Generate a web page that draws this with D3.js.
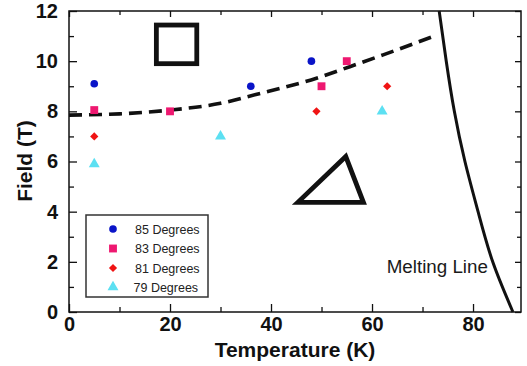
<!DOCTYPE html>
<html>
<head>
<meta charset="utf-8">
<script src="https://cdn.jsdelivr.net/npm/d3@7"></script>
<style>
  html, body { margin: 0; padding: 0; background: #ffffff; }
  svg { display: block; }
  text { font-family: "Liberation Sans", Arial, Helvetica, sans-serif; }
</style>
</head>
<body>
<svg id="chart" width="527" height="366"></svg>
<script>
// ---- data -------------------------------------------------------------
const xMajorTicks = [0, 20, 40, 60, 80];
const xMinorTicks = [10, 30, 50, 70];
const yMajorTicks = [0, 2, 4, 6, 8, 10, 12];
const yMinorTicks = [1, 3, 5, 7, 9, 11];

const series85 = [[5, 9.1], [36, 9.0], [48, 10.0]];
const series83 = [[5, 8.05], [20, 8.0], [50, 9.0], [55, 10.0]];
const series81 = [[5, 7.0], [49, 8.0], [63, 9.0]];
const series79 = [[5, 5.9], [30, 7.0], [62, 8.0]];

const seriesNames = ["85 Degrees", "83 Degrees", "81 Degrees", "79 Degrees"];

// dashed phase boundary (temperature, field)
const boundaryCurve = [[0, 7.85], [10, 7.9], [20, 8.05], [30, 8.32], [37, 8.67],
                       [49, 9.32], [55.6, 9.78], [62.2, 10.25], [72.8, 11.04]];
// melting line (temperature, field)
const meltingCurve = [[73.3, 12], [74.7, 10], [76.3, 8], [78.4, 6],
                      [81.0, 4], [83.9, 2], [87.9, 0]];

// outlined square and triangle markers placed in data space
const squareCorners = [[17.3, 9.9], [25.3, 11.44]];
const triangleVertices = [[45.3, 4.37], [54.8, 6.2], [58.3, 4.37]];

// ---- layout -----------------------------------------------------------
const svg = d3.select("#chart");
const plotLeft = 69, plotRight = 521, plotTop = 11, plotBottom = 312;

const x = d3.scaleLinear().domain([0, 89.5]).range([plotLeft, plotRight]);
const y = d3.scaleLinear().domain([0, 12]).range([plotBottom, plotTop]);

const ink = "#111";

// axes: inward ticks on all four sides
svg.append("g").attr("transform", `translate(0,${plotBottom})`)
  .call(d3.axisBottom(x).tickValues(xMajorTicks).tickSize(-8).tickPadding(5).tickFormat(d3.format("d")));
svg.append("g").attr("transform", `translate(0,${plotBottom})`)
  .call(d3.axisBottom(x).tickValues(xMinorTicks).tickSize(-5).tickFormat(""));
svg.append("g").attr("transform", `translate(0,${plotTop})`)
  .call(d3.axisTop(x).tickValues(xMajorTicks).tickSize(-6).tickFormat(""));
svg.append("g").attr("transform", `translate(0,${plotTop})`)
  .call(d3.axisTop(x).tickValues(xMinorTicks).tickSize(-4).tickFormat(""));

svg.append("g").attr("transform", `translate(${plotLeft},0)`)
  .call(d3.axisLeft(y).tickValues(yMajorTicks).tickSize(-8).tickPadding(11).tickFormat(d3.format("d")));
svg.append("g").attr("transform", `translate(${plotLeft},0)`)
  .call(d3.axisLeft(y).tickValues(yMinorTicks).tickSize(-5).tickFormat(""));
svg.append("g").attr("transform", `translate(${plotRight},0)`)
  .call(d3.axisRight(y).tickValues(yMajorTicks).tickSize(-6).tickFormat(""));
svg.append("g").attr("transform", `translate(${plotRight},0)`)
  .call(d3.axisRight(y).tickValues(yMinorTicks).tickSize(-4).tickFormat(""));

svg.selectAll(".domain").remove();
svg.selectAll(".tick line").attr("stroke", ink).attr("stroke-width", 1.3);
svg.selectAll(".tick text")
  .attr("fill", ink)
  .style("font-size", "20px")
  .style("font-weight", "bold");

// plot frame
svg.append("rect")
  .attr("x", plotLeft).attr("y", plotTop)
  .attr("width", plotRight - plotLeft).attr("height", plotBottom - plotTop)
  .attr("fill", "none").attr("stroke", ink).attr("stroke-width", 1.5);

// axis titles
svg.append("text")
  .attr("x", (plotLeft + plotRight) / 2).attr("y", 357)
  .attr("text-anchor", "middle")
  .attr("fill", ink)
  .style("font-size", "21px").style("font-weight", "bold")
  .text("Temperature (K)");

svg.append("text")
  .attr("transform", `translate(32,161) rotate(-90)`)
  .attr("text-anchor", "middle")
  .attr("fill", ink)
  .style("font-size", "21px").style("font-weight", "bold")
  .text("Field (T)");

// ---- curves ----------------------------------------------------------
const line = d3.line().x(d => x(d[0])).y(d => y(d[1])).curve(d3.curveMonotoneX);

svg.append("path")
  .datum(boundaryCurve)
  .attr("d", line)
  .attr("fill", "none")
  .attr("stroke", ink)
  .attr("stroke-width", 3.6)
  .attr("stroke-dasharray", "13,7");

const meltLine = d3.line().x(d => x(d[0])).y(d => y(d[1])).curve(d3.curveNatural);
svg.append("path")
  .datum(meltingCurve)
  .attr("d", meltLine)
  .attr("fill", "none")
  .attr("stroke", ink)
  .attr("stroke-width", 3);

svg.append("text")
  .attr("x", x(62.9)).attr("y", y(1.54))
  .attr("fill", "#1a1a1a")
  .style("font-size", "18.8px")
  .text("Melting Line");

// ---- outlined shapes -------------------------------------------------
svg.append("rect")
  .attr("x", x(squareCorners[0][0]))
  .attr("y", y(squareCorners[1][1]))
  .attr("width", x(squareCorners[1][0]) - x(squareCorners[0][0]))
  .attr("height", y(squareCorners[0][1]) - y(squareCorners[1][1]))
  .attr("fill", "none").attr("stroke", ink).attr("stroke-width", 4.8);

svg.append("path")
  .datum(triangleVertices)
  .attr("d", d3.line().x(d => x(d[0])).y(d => y(d[1])).curve(d3.curveLinearClosed))
  .attr("fill", "none").attr("stroke", ink).attr("stroke-width", 4.8)
  .attr("stroke-linejoin", "miter");

// ---- data markers ------------------------------------------------------
const styles = [
  { data: series85, color: "#0a14c8", type: d3.symbolCircle, size: 46, rot: 0 },
  { data: series83, color: "#ee1870", type: d3.symbolSquare, size: 62, rot: 0 },
  { data: series81, color: "#f01414", type: d3.symbolSquare, size: 34, rot: 45 },
  { data: series79, color: "#5ce0f2", type: d3.symbolTriangle, size: 52, rot: 0 }
];

styles.forEach(s => {
  svg.append("g").selectAll("path")
    .data(s.data)
    .join("path")
    .attr("d", d3.symbol().type(s.type).size(s.size))
    .attr("transform", d => `translate(${x(d[0])},${y(d[1])}) rotate(${s.rot})`)
    .attr("fill", s.color);
});

// ---- legend ----------------------------------------------------------
const legend = svg.append("g");
legend.append("rect")
  .attr("x", 86).attr("y", 215).attr("width", 122).attr("height", 82)
  .attr("fill", "#fff").attr("stroke", "#333").attr("stroke-width", 1.5);

const rowY = [229, 248.5, 268, 287];
styles.forEach((s, i) => {
  legend.append("path")
    .attr("d", d3.symbol().type(s.type).size(s.size))
    .attr("transform", `translate(113,${rowY[i]}) rotate(${s.rot})`)
    .attr("fill", s.color);
  legend.append("text")
    .attr("x", i === 3 ? 133.5 : 135).attr("y", rowY[i])
    .attr("dy", "0.36em")
    .attr("fill", "#222")
    .style("font-size", "12.5px")
    .text(seriesNames[i]);
});
</script>
</body>
</html>
